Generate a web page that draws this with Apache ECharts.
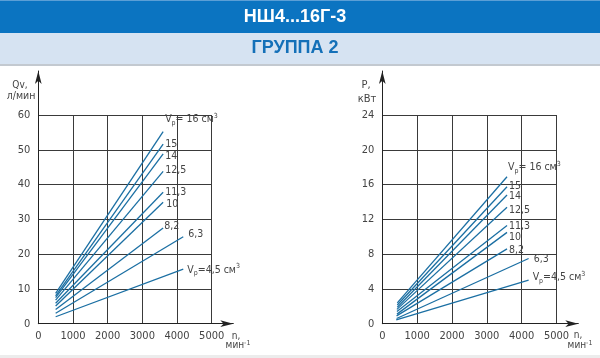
<!DOCTYPE html>
<html>
<head>
<meta charset="utf-8">
<script src="https://cdn.jsdelivr.net/npm/echarts@6/dist/echarts.min.js"></script>
<style>html,body{margin:0;padding:0;background:#fff}#c{width:600px;height:358px}</style>
</head>
<body>
<div id="c"></div>
<script>
// ---- data ----
const volumes = ['16', '15', '14', '12,5', '11,3', '10', '8,2', '6,3', '4,5'];
const xTicks = [0, 1000, 2000, 3000, 4000, 5000];
const flowTicks = [0, 10, 20, 30, 40, 50, 60];
const powerTicks = [0, 4, 8, 12, 16, 20, 24];

const flowStartN = [500, 500, 500, 500, 500, 500, 500, 500, 500];
const flowEndN   = [3600, 3600, 3600, 3600, 3600, 3600, 3600, 4180, 4180];
const flowStart  = [8.7, 8.0, 7.5, 6.8, 5.9, 5.1, 4.1, 3.0, 2.0];
const flowEnd    = [55.2, 51.6, 48.8, 43.8, 37.8, 34.9, 27.5, 25.0, 15.7];

const powerStartN = [430, 430, 430, 420, 420, 420, 410, 410, 400];
const powerEndN   = [3580, 3580, 3580, 3580, 3580, 3580, 3580, 4200, 4200];
const powerStart  = [2.4, 2.15, 1.9, 1.65, 1.4, 1.1, 0.9, 0.6, 0.45];
const powerEnd    = [16.9, 15.75, 14.8, 13.4, 11.3, 10.5, 8.6, 7.5, 5.0];

// ---- styles ----
const LINE = '#1b6fa3';
const GRIDC = '#3a3a3a';
const TXT = '#444';
const FONT = "'DejaVu Sans Condensed', 'Liberation Sans Narrow', sans-serif";
const flowLabelOffset  = [[0,-12],[0,0],[0,2],[0,-1],[0,0],[1,2],[-1,-2],[3,-2],[2,1]];
const powerLabelOffset = [[-1,-9],[0,0],[0,1],[0,3],[0,1],[0,5],[0,1],[3,1],[2,-3]];

const rich = {
  v: {fontSize: 10.5, fontFamily: FONT, color: TXT, lineHeight: 14},
  s: {fontSize: 7, fontFamily: FONT, color: TXT, verticalAlign: 'bottom', lineHeight: 14},
  u: {fontSize: 7, fontFamily: FONT, color: TXT, verticalAlign: 'top', lineHeight: 14}
};
function labelText(i) {
  const vol = volumes[i];
  if (i === 0) return '{v|V}{s|р}{v|= ' + vol + ' см}{u|3}';
  if (i === volumes.length - 1) return '{v|V}{s|р}{v|=' + vol + ' см}{u|3}';
  return '{v|' + vol + '}';
}

function makeSeries(sN, eN, sV, eV, offs, axisIdx) {
  return volumes.map((vol, i) => ({
    type: 'line',
    name: vol,
    xAxisIndex: axisIdx, yAxisIndex: axisIdx,
    data: [[sN[i], sV[i]], [eN[i], eV[i]]],
    showSymbol: false,
    silent: true,
    lineStyle: {color: LINE, width: 1.3},
    endLabel: {
      show: true,
      formatter: () => labelText(i),
      rich: rich,
      distance: 2,
      offset: offs[i],
      fontFamily: FONT, fontSize: 10.5, color: TXT
    },
    z: 5
  }));
}

function mainX(gi) {
  return {
    gridIndex: gi, type: 'value', min: xTicks[0], max: xTicks[xTicks.length - 1],
    interval: xTicks[1] - xTicks[0],
    axisLine: {show: false}, axisTick: {show: false},
    axisLabel: {color: TXT, fontFamily: FONT, fontSize: 11, margin: 7, formatter: v => String(v)},
    splitLine: {show: true, showMinLine: true, showMaxLine: true, lineStyle: {color: GRIDC, width: 1}}
  };
}
function mainY(gi, ticks) {
  return {
    gridIndex: gi, type: 'value', min: ticks[0], max: ticks[ticks.length - 1],
    interval: ticks[1] - ticks[0],
    axisLine: {show: false}, axisTick: {show: false},
    axisLabel: {color: TXT, fontFamily: FONT, fontSize: 11, margin: 8, formatter: v => String(v)},
    splitLine: {show: true, showMinLine: true, showMaxLine: true, lineStyle: {color: GRIDC, width: 1}}
  };
}
function arrowAxis(gi) {
  return {
    gridIndex: gi, type: 'value', min: 0, max: 1,
    axisLabel: {show: false}, axisTick: {show: false}, splitLine: {show: false},
    axisLine: {show: true, symbol: ['none', 'arrow'], symbolSize: [5, 13], lineStyle: {color: '#222', width: 1}}
  };
}

const chart = echarts.init(document.getElementById('c'), null, {renderer: 'canvas'});
chart.setOption({
  animation: false,
  backgroundColor: '#fff',
  grid: [
    {left: 38.3, top: 115, width: 173.4, height: 208.7},
    {left: 38.3, top: 71, width: 195, height: 252.7},
    {left: 382.3, top: 115, width: 174.2, height: 208.7},
    {left: 382.3, top: 71, width: 196, height: 252.7}
  ],
  xAxis: [mainX(0), arrowAxis(1), mainX(2), arrowAxis(3)],
  yAxis: [mainY(0, flowTicks), arrowAxis(1), mainY(2, powerTicks), arrowAxis(3)],
  series: [].concat(
    makeSeries(flowStartN, flowEndN, flowStart, flowEnd, flowLabelOffset, 0),
    makeSeries(powerStartN, powerEndN, powerStart, powerEnd, powerLabelOffset, 2)
  ),
  graphic: [
    {type: 'rect', left: 0, top: 0, shape: {width: 600, height: 33}, style: {fill: '#0b74c1'}},
    {type: 'rect', left: 0, top: 0, shape: {width: 600, height: 1}, style: {fill: '#5b9fd6'}},
    {type: 'rect', left: 0, top: 33, shape: {width: 600, height: 31}, style: {fill: '#d6e3f2'}},
    {type: 'rect', left: 0, top: 64, shape: {width: 600, height: 2}, style: {fill: '#c3c9d0'}},
    {type: 'rect', left: 0, top: 355, shape: {width: 600, height: 3}, style: {fill: '#ececec'}},
    {type: 'text', x: 295, y: 17, style: {text: 'НШ4...16Г-3', fill: '#fff', font: "bold 18px 'Liberation Sans', Arial, sans-serif", align: 'center', verticalAlign: 'middle'}},
    {type: 'text', x: 295, y: 48, style: {text: 'ГРУППА 2', fill: '#1470b8', font: "bold 18px 'Liberation Sans', Arial, sans-serif", align: 'center', verticalAlign: 'middle'}},
    {type: 'text', x: 20, y: 85, style: {text: 'Qv,', fill: TXT, font: "10px " + FONT, align: 'center', verticalAlign: 'middle'}},
    {type: 'text', x: 21, y: 96, style: {text: 'л/мин', fill: TXT, font: "10.5px " + FONT, align: 'center', verticalAlign: 'middle'}},
    {type: 'text', x: 366, y: 85, style: {text: 'P,', fill: TXT, font: "11px " + FONT, align: 'center', verticalAlign: 'middle'}},
    {type: 'text', x: 367, y: 99, style: {text: 'кВт', fill: TXT, font: "11px " + FONT, align: 'center', verticalAlign: 'middle'}},
    {type: 'text', x: 236, y: 336, style: {text: 'n,', fill: TXT, font: "10px " + FONT, align: 'center', verticalAlign: 'middle'}},
    {type: 'text', x: 238, y: 345, style: {rich: {a: {fontSize: 10, fontFamily: FONT, fill: TXT}, b: {fontSize: 7, fontFamily: FONT, fill: TXT, verticalAlign: 'top'}}, text: '{a|мин}{b|-1}', align: 'center', verticalAlign: 'middle'}},
    {type: 'text', x: 578, y: 335, style: {text: 'n,', fill: TXT, font: "10px " + FONT, align: 'center', verticalAlign: 'middle'}},
    {type: 'text', x: 580, y: 345, style: {rich: {a: {fontSize: 10, fontFamily: FONT, fill: TXT}, b: {fontSize: 7, fontFamily: FONT, fill: TXT, verticalAlign: 'top'}}, text: '{a|мин}{b|-1}', align: 'center', verticalAlign: 'middle'}}
  ]
});
</script>
</body>
</html>
